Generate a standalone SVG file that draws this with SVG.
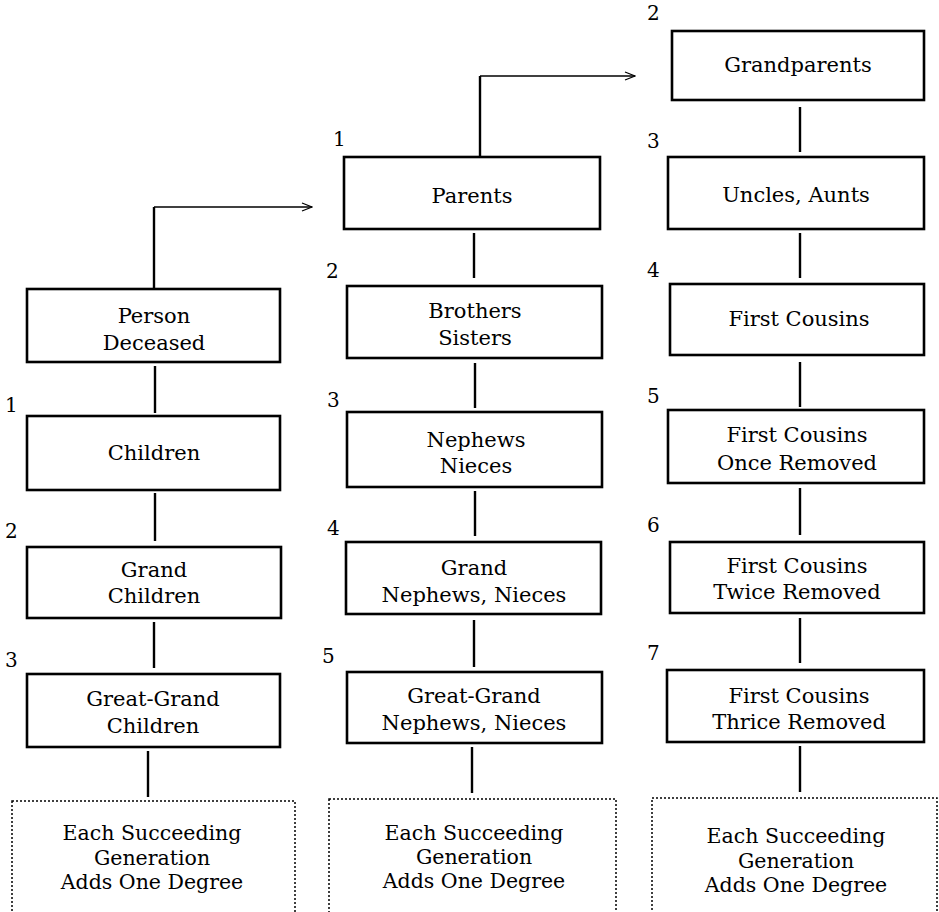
<svg xmlns="http://www.w3.org/2000/svg" width="939" height="912" viewBox="0 0 939 912">
<defs>
<marker id="arr" viewBox="0 0 12 10" refX="11" refY="5" markerWidth="12" markerHeight="10" markerUnits="userSpaceOnUse" orient="auto">
<path d="M1,1 L11,5 L1,9" fill="none" stroke="#000" stroke-width="1.3"/>
</marker>
<style>
.box{fill:#fff;stroke:#000;stroke-width:2.6}
.dot{fill:#fff;stroke:#000;stroke-width:1.5;stroke-dasharray:2 2}
.t{font-family:"DejaVu Serif","Liberation Serif",serif;font-size:21px;fill:#000;text-anchor:middle}
.e{font-size:20.5px}
.n{font-family:"DejaVu Serif","Liberation Serif",serif;font-size:20px;fill:#000}
.c{stroke:#000;stroke-width:2.4;fill:none}
.h{stroke:#000;stroke-width:1.3;fill:none}
</style>
</defs>
<rect width="939" height="912" fill="#fff"/>
<g id="connectors">
<path class="c" d="M154,288 V207"/>
<path class="h" d="M154,207 H312" marker-end="url(#arr)"/>
<path class="c" d="M480,157 V76"/>
<path class="h" d="M480,76 H635" marker-end="url(#arr)"/>
<path class="c" d="M155,366 V413"/>
<path class="c" d="M155,493 V541"/>
<path class="c" d="M154,622 V668"/>
<path class="c" d="M148,751 V797"/>
<path class="c" d="M474,233 V278"/>
<path class="c" d="M475,363 V408"/>
<path class="c" d="M475,491 V536"/>
<path class="c" d="M474,620 V667"/>
<path class="c" d="M472,747 V793"/>
<path class="c" d="M800,107 V152"/>
<path class="c" d="M800,233 V278"/>
<path class="c" d="M800,362 V407"/>
<path class="c" d="M800,488 V535"/>
<path class="c" d="M800,618 V663"/>
<path class="c" d="M800,746 V792"/>
</g>
<g id="person-deceased"><rect class="box" x="27" y="289" width="253" height="73"/><text class="t" x="154" y="323">Person</text><text class="t" x="154" y="350">Deceased</text></g>
<g id="children"><text class="n" x="5" y="412">1</text><rect class="box" x="27" y="416" width="253" height="74"/><text class="t" x="154" y="460">Children</text></g>
<g id="grand-children"><text class="n" x="5" y="538">2</text><rect class="box" x="27" y="547" width="254" height="71"/><text class="t" x="154" y="577">Grand</text><text class="t" x="154" y="603">Children</text></g>
<g id="great-grand-children"><text class="n" x="5" y="667">3</text><rect class="box" x="27" y="674" width="253" height="73"/><text class="t" x="153" y="706">Great-Grand</text><text class="t" x="153" y="733">Children</text></g>
<g id="succ-1"><rect class="dot" x="12" y="801" width="283" height="120"/><text class="t e" x="152" y="840">Each Succeeding</text><text class="t e" x="152" y="865">Generation</text><text class="t e" x="152" y="889">Adds One Degree</text></g>
<g id="parents"><text class="n" x="333" y="146">1</text><rect class="box" x="344" y="157" width="256" height="72"/><text class="t" x="472" y="203">Parents</text></g>
<g id="brothers-sisters"><text class="n" x="326" y="278">2</text><rect class="box" x="347" y="286" width="255" height="72"/><text class="t" x="475" y="318">Brothers</text><text class="t" x="475" y="345">Sisters</text></g>
<g id="nephews-nieces"><text class="n" x="327" y="407">3</text><rect class="box" x="347" y="412" width="255" height="75"/><text class="t" x="476" y="447">Nephews</text><text class="t" x="476" y="473">Nieces</text></g>
<g id="grand-nephews"><text class="n" x="327" y="535">4</text><rect class="box" x="346" y="542" width="255" height="72"/><text class="t" x="474" y="575">Grand</text><text class="t" x="474" y="602">Nephews, Nieces</text></g>
<g id="great-grand-nephews"><text class="n" x="322" y="663">5</text><rect class="box" x="347" y="672" width="255" height="71"/><text class="t" x="474" y="703">Great-Grand</text><text class="t" x="474" y="730">Nephews, Nieces</text></g>
<g id="succ-2"><rect class="dot" x="329" y="799" width="287" height="122"/><text class="t e" x="474" y="840">Each Succeeding</text><text class="t e" x="474" y="864">Generation</text><text class="t e" x="474" y="888">Adds One Degree</text></g>
<g id="grandparents"><text class="n" x="647" y="20">2</text><rect class="box" x="672" y="31" width="252" height="69"/><text class="t" x="798" y="72">Grandparents</text></g>
<g id="uncles-aunts"><text class="n" x="647" y="148">3</text><rect class="box" x="668" y="157" width="256" height="72"/><text class="t" x="796" y="202">Uncles, Aunts</text></g>
<g id="first-cousins"><text class="n" x="647" y="277">4</text><rect class="box" x="670" y="284" width="254" height="71"/><text class="t" x="799" y="326">First Cousins</text></g>
<g id="once-removed"><text class="n" x="647" y="403">5</text><rect class="box" x="668" y="410" width="256" height="73"/><text class="t" x="797" y="442">First Cousins</text><text class="t" x="797" y="470">Once Removed</text></g>
<g id="twice-removed"><text class="n" x="647" y="532">6</text><rect class="box" x="670" y="542" width="254" height="71"/><text class="t" x="797" y="573">First Cousins</text><text class="t" x="797" y="599">Twice Removed</text></g>
<g id="thrice-removed"><text class="n" x="647" y="660">7</text><rect class="box" x="667" y="670" width="257" height="72"/><text class="t" x="799" y="703">First Cousins</text><text class="t" x="799" y="729">Thrice Removed</text></g>
<g id="succ-3"><rect class="dot" x="652" y="798" width="285" height="123"/><text class="t e" x="796" y="843">Each Succeeding</text><text class="t e" x="796" y="868">Generation</text><text class="t e" x="796" y="892">Adds One Degree</text></g>
</svg>
